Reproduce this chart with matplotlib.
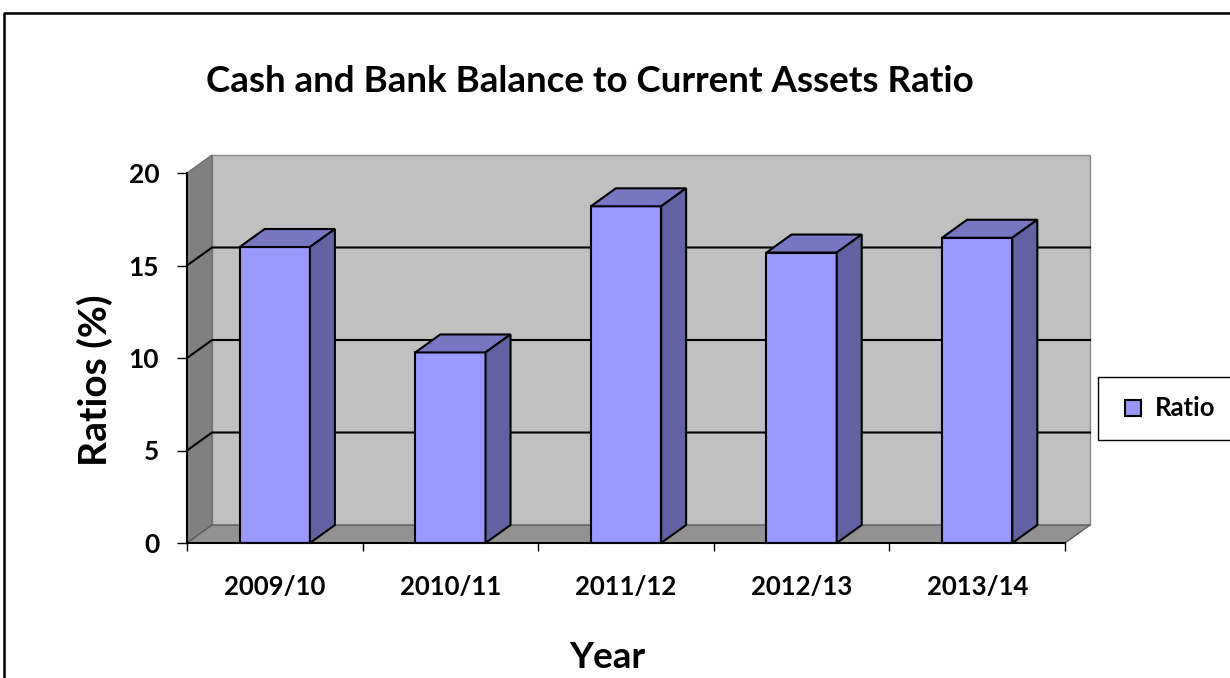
import matplotlib
matplotlib.use("Agg")
import matplotlib.pyplot as plt
from matplotlib.patches import Polygon, Rectangle
from matplotlib.lines import Line2D

# ---- data ----
years = ["2009/10", "2010/11", "2011/12", "2012/13", "2013/14"]
ratios = [16.0, 10.3, 18.2, 15.7, 16.5]
y_ticks = [0, 5, 10, 15, 20]
series_name = "Ratio"

plt.rcParams['font.family'] = ['Lato', 'DejaVu Sans']
plt.rcParams['font.weight'] = 'bold'

W, H = 1230, 678
fig = plt.figure(figsize=(W / 100, H / 100), dpi=100)
fig.patch.set_facecolor('white')

# front plane of the 3-D plot box (pixels)
px0, px1, pyb, pyt = 187, 1065, 543, 173
ax = fig.add_axes([px0 / W, (H - pyb) / H, (px1 - px0) / W, (pyb - pyt) / H])
n = len(years)
ymax = y_ticks[-1]
ax.set_xlim(0, n)
ax.set_ylim(0, ymax)
ax.patch.set_visible(False)

# depth of the box expressed in data units
dx = 25 / ((px1 - px0) / n)
dy = 18 / ((pyb - pyt) / ymax)

FRONT = '#9999FF'
TOP = '#7676C2'
SIDE = '#6262A2'

# back wall, side wall, floor
ax.add_patch(Rectangle((dx, dy), n, ymax, fc='#C0C0C0', ec='#8a8a8a', lw=1,
                       zorder=0, clip_on=False))
ax.add_patch(Polygon([(0, 0), (dx, dy), (dx, ymax + dy), (0, ymax)],
                     closed=True, fc='#808080', ec='#6e6e6e', lw=1,
                     zorder=0.5, clip_on=False))
ax.add_patch(Polygon([(0, 0), (n, 0), (n + dx, dy), (dx, dy)],
                     closed=True, fc='#929292', ec='#5a5a5a', lw=1,
                     zorder=0.6, clip_on=False))

# gridlines on the walls
for v in y_ticks[1:-1]:
    ax.add_line(Line2D([0, dx, n + dx], [v, v + dy, v + dy], color='black',
                       lw=1.5, zorder=1, clip_on=False))

# columns
centers = [i + 0.5 for i in range(n)]
bw = 0.4
ax.bar(centers, ratios, width=bw, color=FRONT, edgecolor='black', lw=1.5,
       zorder=3, clip_on=False)
for c, v in zip(centers, ratios):
    l, r = c - bw / 2, c + bw / 2
    ax.add_patch(Polygon([(l, v), (l + dx, v + dy), (r + dx, v + dy), (r, v)],
                         closed=True, fc=TOP, ec='black', lw=1.5, zorder=3,
                         clip_on=False))
    ax.add_patch(Polygon([(r, 0), (r + dx, dy), (r + dx, v + dy), (r, v)],
                         closed=True, fc=SIDE, ec='black', lw=1.5, zorder=3,
                         clip_on=False))

# axes lines and ticks
for s in ('top', 'right'):
    ax.spines[s].set_visible(False)
for s in ('left', 'bottom'):
    ax.spines[s].set_linewidth(1.5)
    ax.spines[s].set_zorder(4)
ax.set_yticks(y_ticks)
ax.set_yticklabels([str(t) for t in y_ticks])
ax.tick_params(axis='y', direction='out', length=7, width=1, pad=13,
               labelsize=19)
ax.set_xticks(range(n + 1))
ax.set_xticklabels([])
ax.set_xticks(centers, minor=True)
ax.set_xticklabels(years, minor=True)
ax.tick_params(axis='x', which='major', direction='out', length=6, width=1)
ax.tick_params(axis='x', which='minor', length=0, pad=23, labelsize=18.5)
for lab in ax.get_xticklabels(minor=True) + ax.get_yticklabels():
    lab.set_fontweight('bold')

renderer = fig.canvas.get_renderer()


def fit(txt, target):
    bb = txt.get_window_extent(renderer)
    cur = max(bb.width, bb.height)
    txt.set_fontsize(txt.get_fontsize() * target / cur)


title = fig.text(590 / W, (H - 92) / H,
                 "Cash and Bank Balance to Current Assets Ratio",
                 ha='center', va='baseline', fontsize=26, fontweight='bold')
fit(title, 770)

ylab = fig.text(95 / W, (H - 380) / H, "Ratios (%)", rotation=90,
                ha='center', va='center', fontsize=24, fontweight='bold')
fit(ylab, 172)

xlab = fig.text(607 / W, (H - 668) / H, "Year", ha='center', va='baseline',
                fontsize=26, fontweight='bold')
fit(xlab, 76)

# legend (its box runs past the right edge of the canvas)
handle = Line2D([], [], marker='s', ls='none', markersize=11.5,
                markerfacecolor=FRONT, markeredgecolor='black',
                markeredgewidth=1.5, label=series_name)
leg = ax.legend(handles=[handle], loc='center left', mode='expand',
                bbox_to_anchor=(1098 / W, (H - 439) / H, 150 / W, 61 / H),
                bbox_transform=fig.transFigure, frameon=True, fancybox=False,
                framealpha=1, edgecolor='black',
                handlelength=1.2, handletextpad=0.25, borderpad=0.75,
                borderaxespad=0, prop={'weight': 'bold', 'size': 18.5})
leg.get_frame().set_linewidth(1)

# outer chart border
fig.add_artist(Line2D([4 / W, 4 / W, 1.0], [0, (H - 13) / H, (H - 13) / H],
                      transform=fig.transFigure, color='black', lw=1.8))

fig.savefig("out.png", dpi=100)
